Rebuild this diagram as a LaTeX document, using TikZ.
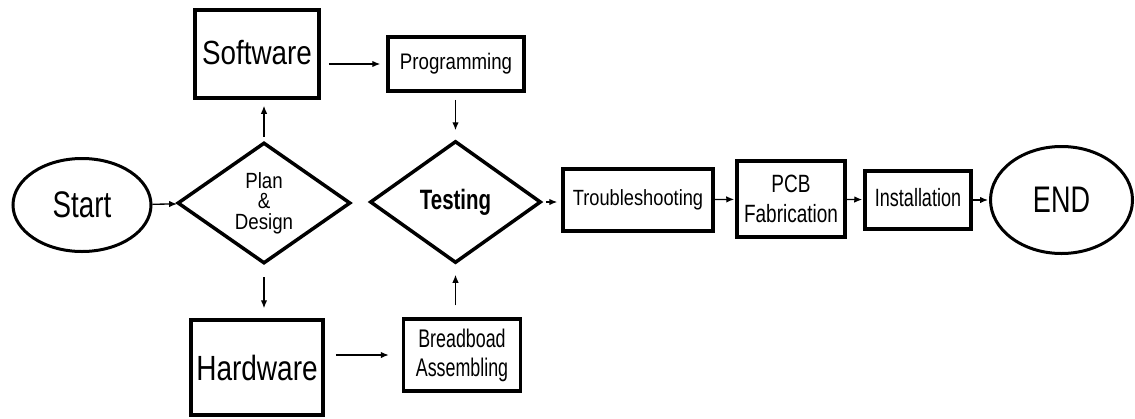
\documentclass[tikz,border=0pt]{standalone}
\usepackage{fontspec}
\setmainfont{Liberation Sans}
\usetikzlibrary{shapes.geometric,arrows.meta}
\newcommand{\fnt}[3]{\addfontfeatures{FakeStretch=#1}\fontsize{#2}{#3}\selectfont}
\begin{document}
\begin{tikzpicture}[x=1pt,y=-1pt,
  box/.style={draw,line width=3.5pt,inner sep=0pt,align=center},
  oval/.style={draw,ellipse,line width=3pt,inner sep=0pt},
  dia/.style={draw,diamond,line width=3.5pt,inner sep=0pt,align=center},
  arr/.style={line width=1.3pt,-{Latex[length=8pt,width=6.5pt]}}]
\useasboundingbox (0,0) rectangle (1135,418);
\node[oval,font=\fnt{0.75}{37}{40},minimum width=138pt,minimum height=93pt] (start) at (82,205) {Start};
\node[dia,minimum width=173pt,minimum height=121pt,font=\fnt{0.85}{22}{20.5}] (plan) at (264,203) {Plan\\\&\\Design};
\node[box,font=\fnt{0.83}{33.5}{40},minimum width=124pt,minimum height=88pt] (software) at (257,54) {\raisebox{3pt}{Software}};
\node[box,font=\fnt{0.83}{22.5}{28},minimum width=136pt,minimum height=54pt] (prog) at (456,64) {Programming};
\node[box,font=\fnt{0.8}{35}{40},minimum width=132pt,minimum height=95pt] (hardware) at (257,367.5) {Hardware};
\node[box,font=\fnt{0.7}{25.5}{29},minimum width=117pt,minimum height=72pt] (bread) at (462,355) {Breadboad\\Assembling};
\node[dia,minimum width=171pt,minimum height=122pt,font=\bfseries\fnt{0.73}{28}{30}] (testing) at (455.5,202) {\raisebox{3pt}{Testing}};
\node[box,font=\fnt{0.83}{22}{28},minimum width=150pt,minimum height=62pt] (trouble) at (638,200) {Troubleshooting};
\node[box,font=\fnt{0.76}{25}{30},minimum width=108pt,minimum height=76pt] (pcb) at (791,199) {PCB\\Fabrication};
\node[box,font=\fnt{0.72}{25}{30},minimum width=106pt,minimum height=58pt] (install) at (918,200) {\raisebox{5pt}{Installation}};
\node[oval,font=\fnt{0.73}{37}{40},minimum width=142pt,minimum height=107pt] (end) at (1061.5,200) {END};
\draw[arr] (start) -- (plan);
\draw[arr,shorten <=4pt,shorten >=6pt] (plan.north) -- (plan.north |- software.south);
\draw[arr,shorten <=8pt,shorten >=6pt] (software.east |- prog.west) -- (prog.west);
\draw[arr,shorten <=7pt,shorten >=9pt] (prog.south -| testing.north) -- (testing.north);
\draw[arr,shorten <=12pt,shorten >=10pt] (plan.south) -- (plan.south |- hardware.north);
\draw[arr,shorten <=11pt,shorten >=13pt] (hardware.east |- bread.west) -- (bread.west);
\draw[arr,shorten <=12pt,shorten >=10pt] (testing.south |- bread.north) -- (testing.south);
\draw[arr,shorten <=3pt,shorten >=4pt] (testing.east) -- (trouble.west |- testing.east);
\draw[arr,shorten >=1pt] (trouble) -- (pcb);
\draw[arr,shorten >=1pt] (pcb) -- (install);
\draw[arr,shorten >=1pt] (install) -- (end);
\end{tikzpicture}
\end{document}
